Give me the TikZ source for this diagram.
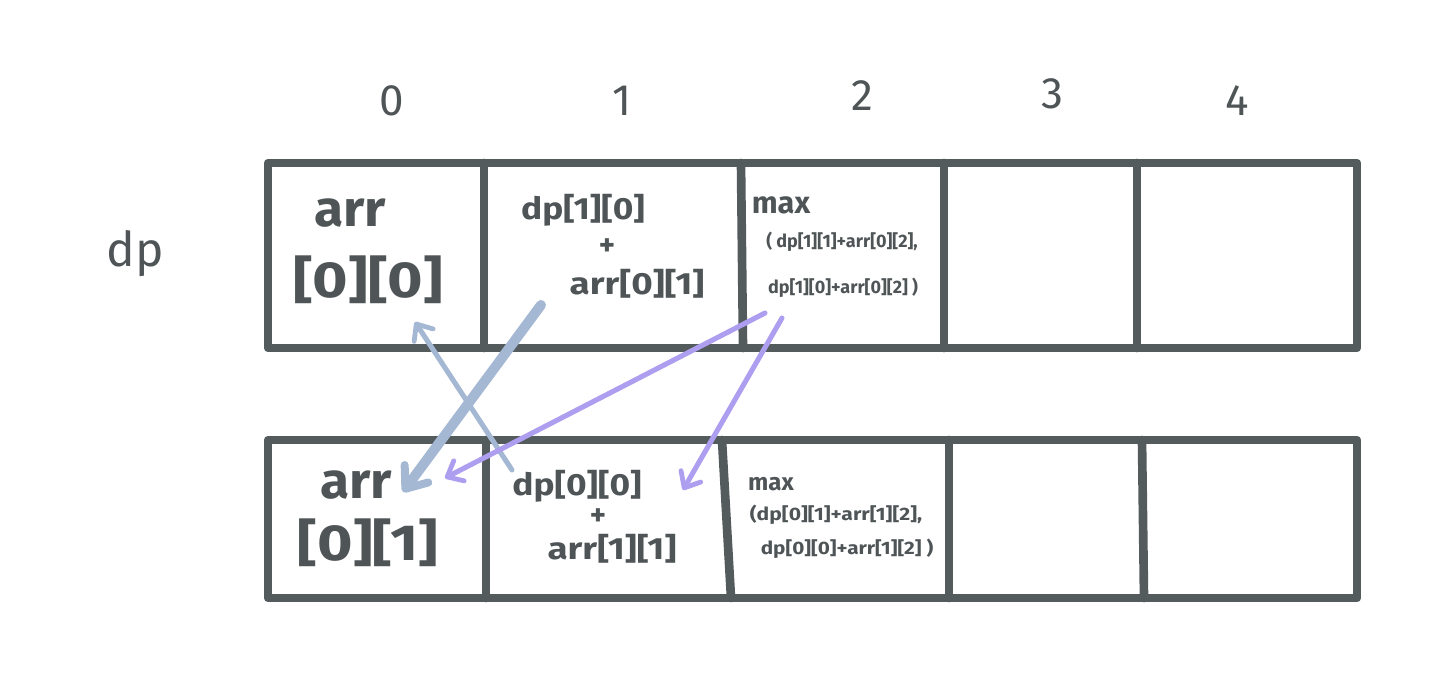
\documentclass[tikz,border=0pt]{standalone}
\usepackage{fontspec}
\usepackage{graphicx}
\setmainfont{Fira Sans}
\usetikzlibrary{arrows.meta}
\definecolor{grid}{HTML}{545B5D}
\definecolor{ink}{HTML}{4F5557}
\definecolor{bluearr}{HTML}{A4B8D4}
\definecolor{purparr}{HTML}{AE9EF0}
\newcommand\wide[2]{\scalebox{#1}[1]{#2}}
\tikzset{
  cellline/.style={draw=grid, line width=6.5pt, line join=round, line cap=round},
  big/.style={text=ink, font=\fontsize{38}{40}\selectfont\bfseries, inner sep=0pt},
  mid/.style={text=ink, font=\fontsize{23}{25}\selectfont\bfseries, inner sep=0pt},
  small/.style={text=ink, font=\fontsize{13.5}{15}\selectfont\bfseries, inner sep=0pt},
  lab/.style={text=ink, font=\fontsize{33}{35}\selectfont, inner sep=0pt},
  bluethick/.style={draw=bluearr, line width=7.5pt, line cap=round, -{Straight Barb[length=14pt,width=22pt,line width=6pt,round]}},
  bluethin/.style={draw=bluearr, line width=3.8pt, line cap=round, -{Straight Barb[length=10pt,width=17pt,line width=3.6pt,round]}},
  purp/.style={draw=purparr, line width=3.8pt, line cap=round, -{Straight Barb[length=10pt,width=17pt,line width=3.6pt,round]}},
}
\begin{document}
\begin{tikzpicture}[x=0.75pt,y=-0.75pt]
\useasboundingbox (0,0) rectangle (1456,677);
% top row
\draw[cellline] (268,163) rectangle (1357,348);
\draw[cellline] (484,163) -- (484,348);
\draw[cellline] (741,163) -- (743,348);
\draw[cellline] (944,163) -- (944,348);
\draw[cellline] (1137,163) -- (1137,348);
% bottom row
\draw[cellline] (268,440) rectangle (1357,598);
\draw[cellline] (486,440) -- (486,598);
\draw[cellline] (722,440) -- (731,598);
\draw[cellline] (949,440) -- (949,598);
\draw[cellline] (1142,440) -- (1144,598);
% labels
\node[lab] (c0) at (392,101) {0};
\node[lab] (c1) at (622,101) {1};
\node[lab] (c2) at (862,96) {2};
\node[lab] (c3) at (1052,94) {3};
\node[lab] (c4) at (1237,101) {4};
\node[lab, font=\fontsize{36}{38}\selectfont] (dp) at (135,254) {dp};
% top cells text
\node[big] (t0a) at (350,213) {\wide{1.05}{arr}};
\node[big] (t0b) at (368,280) {\wide{1.2}{[0][0]}};
\node[mid] (t1a) at (583,210) {\wide{1.15}{dp[1][0]}};
\node[mid] (t1b) at (607,247) {+};
\node[mid] (t1c) at (637,284) {\wide{1.2}{arr[0][1]}};
\node[mid] (t2a) at (781,205) {max};
\node[small] (t2b) at (842,242) {( dp[1][1]+arr[0][2],};
\node[small] (t2c) at (843,288) {dp[1][0]+arr[0][2] )};
% bottom cells text
\node[big] (b0a) at (356,485) {\wide{1.05}{arr}};
\node[big] (b0b) at (368,543) {\wide{1.2}{[0][1]}};
\node[mid] (b1a) at (577,486) {\wide{1.15}{dp[0][0]}};
\node[mid] (b1b) at (598,517) {+};
\node[mid] (b1c) at (612,549) {\wide{1.2}{arr[1][1]}};
\node[mid, font=\fontsize{18}{20}\selectfont\bfseries] (b2a) at (771,484) {max};
\node[small] (b2b) at (836,515) {\wide{1.17}{(dp[0][1]+arr[1][2],}};
\node[small] (b2c) at (847,549) {\wide{1.15}{dp[0][0]+arr[1][2] )}};
% arrow endpoints
\coordinate (a1s) at (541,305); \coordinate (a1e) at (403,492);
\coordinate (a2s) at (512,470); \coordinate (a2e) at (415,322);
\coordinate (a3s) at (765,313); \coordinate (a3e) at (445,478);
\coordinate (a4s) at (782,318); \coordinate (a4e) at (683,490);
\draw[bluethin] (a2s) -- (a2e);
\draw[bluethick] (a1s) -- (a1e);
\draw[purp] (a3s) -- (a3e);
\draw[purp] (a4s) -- (a4e);
\end{tikzpicture}
\end{document}
